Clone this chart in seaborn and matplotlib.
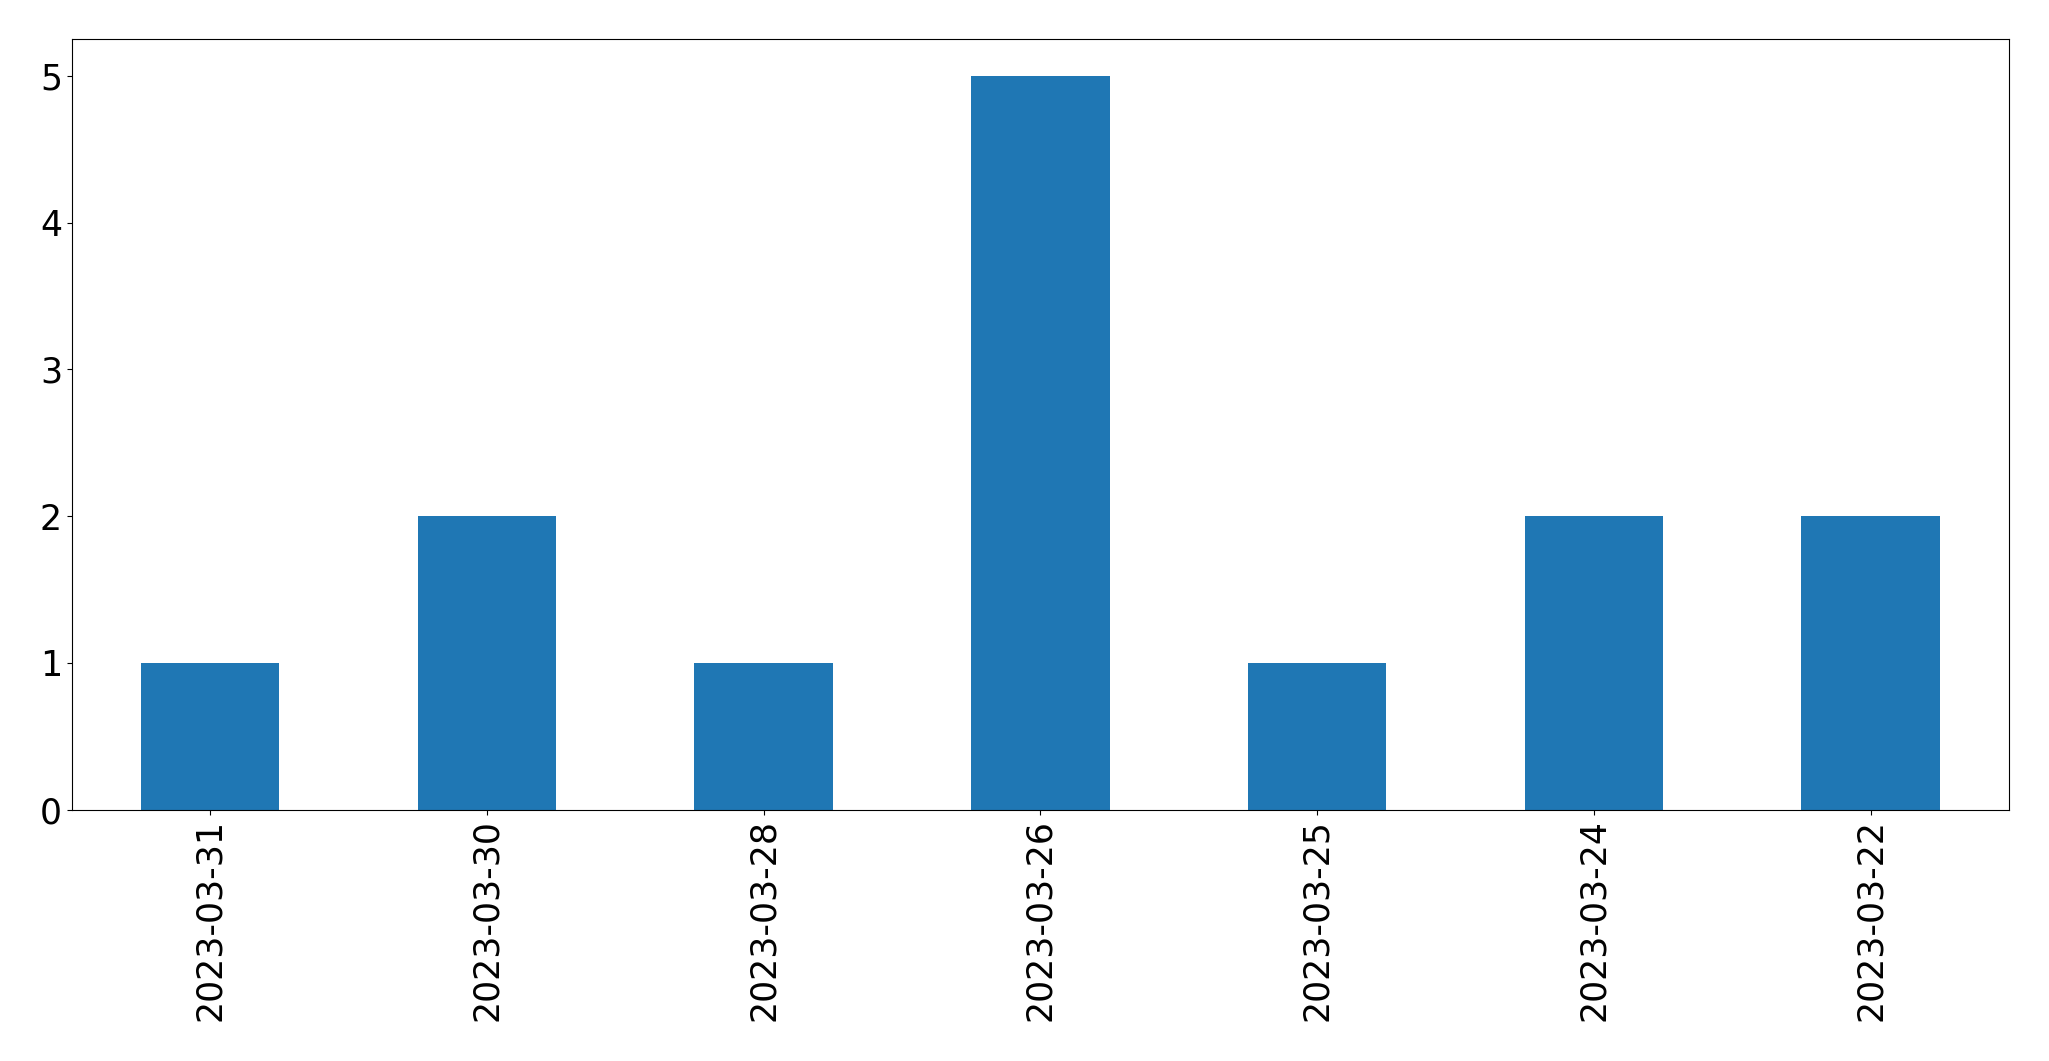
import matplotlib
matplotlib.use("Agg")
import matplotlib.pyplot as plt
import pandas as pd
import seaborn as sns

# counts per date, in the order shown
dates = ["2023-03-31", "2023-03-30", "2023-03-28", "2023-03-26",
         "2023-03-25", "2023-03-24", "2023-03-22"]
counts = [1, 2, 1, 5, 1, 2, 2]

df = pd.DataFrame({"date": dates, "count": counts})

fig, ax = plt.subplots(figsize=(20.49, 10.61), dpi=100)
sns.barplot(data=df, x="date", y="count", order=dates, color="#1f77b4",
            saturation=1, width=0.5, ax=ax)

ax.set_xlim(-0.5, len(dates) - 0.5)
ax.set_xlabel("")
ax.set_ylabel("")
ax.tick_params(axis="both", labelsize=25)
plt.setp(ax.get_xticklabels(), rotation=90)

plt.subplots_adjust(left=0.035, right=0.9805, top=0.963, bottom=0.237)
plt.savefig("out.png", dpi=100)
plt.close()
